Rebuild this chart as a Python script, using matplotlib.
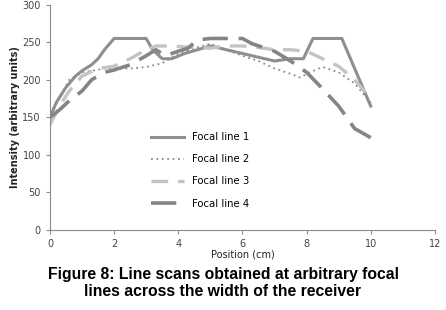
import matplotlib.pyplot as plt

# values
x1 = [0, 0.2, 0.5, 0.8, 1.0, 1.3, 1.5, 1.7, 2.0, 3.0, 3.2, 3.5, 3.8, 4.2, 4.6, 5.0, 5.5, 6.0, 6.5, 7.0, 7.5, 7.9, 8.2, 9.1, 9.4, 9.7, 10.0]
y1 = [150, 170, 190, 205, 212, 220, 228, 240, 255, 255, 240, 228, 228, 235, 240, 245, 240, 235, 230, 225, 228, 228, 255, 255, 225, 195, 165]

x2 = [0, 0.3, 0.6, 1.0, 1.3, 1.7, 2.0, 2.5, 3.0, 3.5, 4.0, 4.5, 5.0, 5.5, 6.0, 6.5, 7.0, 7.5, 7.8, 8.1, 8.5, 9.0, 9.5, 10.0]
y2 = [155, 175, 200, 210, 212, 215, 215, 215, 217, 222, 235, 242, 248, 240, 232, 225, 215, 208, 203, 210, 217, 210, 195, 170]

x3 = [0, 0.3, 0.6, 1.0, 1.5, 2.0, 2.5, 3.0, 3.3, 3.8, 4.5, 5.0, 5.5, 6.0, 6.5, 7.0, 7.5, 8.0, 8.5, 9.0, 9.5, 10.0]
y3 = [140, 165, 185, 205, 215, 218, 228, 240, 245, 245, 243, 242, 245, 245, 243, 240, 240, 238, 228, 218, 200, 175]

x4 = [0, 0.3, 0.6, 1.0, 1.3, 1.7, 2.0, 2.5, 3.0, 3.3, 3.6, 4.0, 4.3, 4.6, 5.0, 6.0, 6.3, 7.0, 7.5, 8.0, 8.5, 9.0, 9.5, 10.0]
y4 = [150, 160, 172, 185, 200, 210, 213, 220, 232, 240, 232, 238, 242, 253, 255, 255, 248, 238, 225, 210, 188, 165, 135, 123]

labels = ['Focal line 1', 'Focal line 2', 'Focal line 3', 'Focal line 4']

fig = plt.figure(figsize=(4.46, 3.10), dpi=100)
ax = fig.add_axes([0.112, 0.258, 0.863, 0.727])

ax.plot(x1, y1, color='#8f8f8f', linewidth=2.2, label=labels[0])
ax.plot(x2, y2, color='#8a8a8a', linewidth=1.3, linestyle=(0, (1, 2)), label=labels[1])
ax.plot(x3, y3, color='#c4c4c4', linewidth=2.4, linestyle=(0, (5, 3)), label=labels[2])
ax.plot(x4, y4, color='#858585', linewidth=2.6, linestyle=(0, (7, 3)), label=labels[3])

ax.set_xlim(0, 12)
ax.set_ylim(0, 300)
ax.set_xticks(range(0, 13, 2))
ax.set_yticks(range(0, 301, 50))
for s in ['top', 'right']:
    ax.spines[s].set_visible(False)
for s in ['left', 'bottom']:
    ax.spines[s].set_color('#8c8c8c')
ax.tick_params(colors='#8c8c8c', labelcolor='#444444', labelsize=7, length=3)

ax.set_xlabel('Position (cm)', fontsize=7, color='#222222', labelpad=0)
ax.set_ylabel('Intensity (arbitrary units)', fontsize=7, fontweight='bold', color='#222222', labelpad=2)

ax.legend(loc='upper left', bbox_to_anchor=(0.24, 0.475), frameon=False, fontsize=7.3,
          handlelength=3.2, labelspacing=1.2, handletextpad=0.8)

fig.text(0.5, 0.088, 'Figure 8: Line scans obtained at arbitrary focal\nlines across the width of the receiver',
         ha='center', va='center', fontsize=11.3, fontweight='bold', family='Liberation Sans',
         linespacing=1.2)

fig.savefig('out.png', dpi=100)
